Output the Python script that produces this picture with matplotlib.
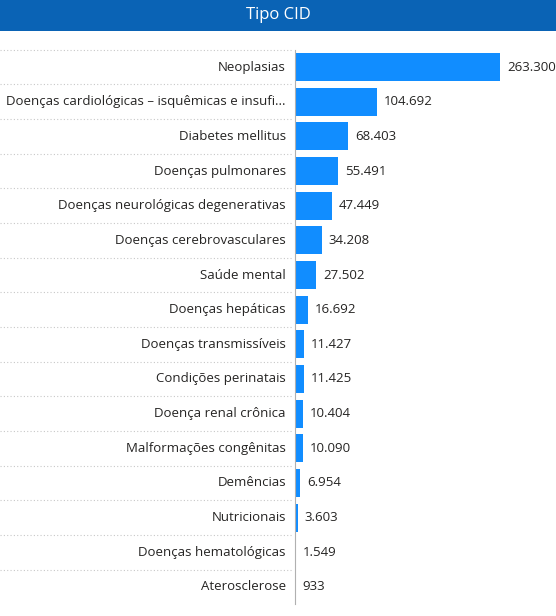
import matplotlib.pyplot as plt
import matplotlib.transforms as mtransforms
from matplotlib.patches import Rectangle

categories = [
    "Neoplasias",
    "Doenças cardiológicas – isquêmicas e insufi...",
    "Diabetes mellitus",
    "Doenças pulmonares",
    "Doenças neurológicas degenerativas",
    "Doenças cerebrovasculares",
    "Saúde mental",
    "Doenças hepáticas",
    "Doenças transmissíveis",
    "Condições perinatais",
    "Doença renal crônica",
    "Malformações congênitas",
    "Demências",
    "Nutricionais",
    "Doenças hematológicas",
    "Aterosclerose",
]
values = [263300, 104692, 68403, 55491, 47449, 34208, 27502, 16692,
          11427, 11425, 10404, 10090, 6954, 3603, 1549, 933]

plt.rcParams['font.family'] = ['Open Sans', 'DejaVu Sans']

fig = plt.figure(figsize=(5.56, 6.16), dpi=100)
fig.patch.set_facecolor("white")

# title bar
fig.patches.append(Rectangle((0, 1 - 31 / 616), 1, 31 / 616, transform=fig.transFigure,
                             facecolor="#0A63B5", edgecolor="none"))
fig.text(0.5, 1 - 15 / 616, "Tipo CID", color="white", fontsize=12,
         ha="center", va="center")

ax = fig.add_axes([295 / 556, 1 - 604.3 / 616, 261 / 556, (604.3 - 49.7) / 616])
y = list(range(len(values)))
ax.barh(y, values, height=0.8, color="#118DFF")
ax.set_ylim(len(values) - 0.5, -0.5)
ax.set_xlim(0, 335000)
ax.axis("off")

for yi, v in zip(y, values):
    ax.annotate(f"{v:,}".replace(",", "."), (v, yi), xytext=(5, 0),
                textcoords="offset points", va="center", ha="left",
                fontsize=9.5, color="#252423")

trans = mtransforms.blended_transform_factory(fig.transFigure, ax.transData)
for yi, c in zip(y, categories):
    ax.text(286 / 556, yi, c, transform=trans, ha="right", va="center",
            fontsize=9.5, color="#252423")
for b in range(len(values)):
    ax.plot([0, 293 / 556], [b - 0.5, b - 0.5], transform=trans, color="#C8C8C8",
            linestyle=(0, (1, 2)), linewidth=0.8, clip_on=False)
ax.plot([0, 0], [-0.5, len(values) - 0.5], color="#B0B0B0", linewidth=0.8, clip_on=False)

fig.savefig("out.png", dpi=100)
